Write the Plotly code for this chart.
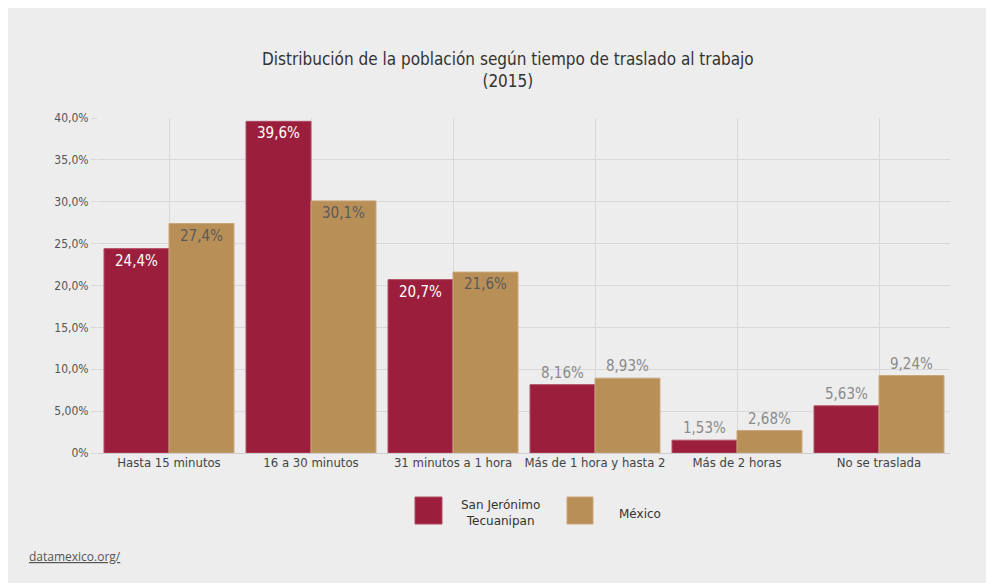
import plotly.graph_objects as go

categories = ["Hasta 15 minutos", "16 a 30 minutos", "31 minutos a 1 hora",
              "Más de 1 hora y hasta 2", "Más de 2 horas", "No se traslada"]
san_jeronimo = [24.4, 39.6, 20.7, 8.16, 1.53, 5.63]
mexico = [27.4, 30.1, 21.6, 8.93, 2.68, 9.24]
positions = ["inside", "inside", "inside", "outside", "outside", "outside"]
tick_vals = [0, 5, 10, 15, 20, 25, 30, 35, 40]
tick_text = ["0%", "5,00%", "10,0%", "15,0%", "20,0%", "25,0%", "30,0%", "35,0%", "40,0%"]

RED = "#9B1F3D"
GOLD = "#B98F58"
BG = "#EDEDED"
COND = "'Liberation Sans Narrow', 'DejaVu Sans Condensed', 'Roboto', sans-serif"

# page body has an 8px default margin: work in page pixel coords, then shift
OFF = 8
W, H = 994 - OFF, 583 - OFF


def fmt(v):
    return f"{v:.3g}".replace(".", ",") + "%"


fig = go.Figure()
fig.add_trace(go.Bar(
    x=categories, y=san_jeronimo, name="San Jerónimo Tecuanipan",
    marker=dict(color=RED, line=dict(color="#B04A62", width=1)),
    text=[fmt(v) for v in san_jeronimo], textposition=positions,
    insidetextanchor="end",
    insidetextfont=dict(color="white", size=15, family=COND),
    outsidetextfont=dict(color="#8A8A8A", size=15, family=COND),
    cliponaxis=False, showlegend=False,
))
fig.add_trace(go.Bar(
    x=categories, y=mexico, name="México",
    marker=dict(color=GOLD, line=dict(color="#C9A577", width=1)),
    text=[fmt(v) for v in mexico], textposition=positions,
    insidetextanchor="end",
    insidetextfont=dict(color="#5A5A5A", size=15, family=COND),
    outsidetextfont=dict(color="#8A8A8A", size=15, family=COND),
    cliponaxis=False, showlegend=False,
))

# plot area in page pixels: x 98..950, y 118..453
PL, PR, PT, PB = 98, 950, 118, 453
L = PL - OFF
R = 994 - PR
T = PT - OFF
B = 583 - PB
PW = PR - PL
PH = PB - PT


def px(x):
    return (x - PL) / PW


def py(y):
    return (PB - y) / PH


shapes = [
    dict(type="rect", xref="paper", yref="paper", x0=px(415), x1=px(442), y0=py(524), y1=py(497),
         fillcolor=RED, line=dict(color="#B04A62", width=1)),
    dict(type="rect", xref="paper", yref="paper", x0=px(567), x1=px(593), y0=py(524), y1=py(497),
         fillcolor=GOLD, line=dict(color="#C9A577", width=1)),
]

LEGFONT = dict(family="'DejaVu Sans', Verdana, sans-serif", size=12, color="#333")
annotations = [
    dict(text="San Jerónimo<br>Tecuanipan", xref="paper", yref="paper", x=px(500), y=py(513),
         showarrow=False, xanchor="center", yanchor="middle", font=LEGFONT),
    dict(text="México", xref="paper", yref="paper", x=px(640), y=py(514),
         showarrow=False, xanchor="center", yanchor="middle", font=LEGFONT),
    dict(text="<u>datamexico.org/</u>", xref="paper", yref="paper", x=px(27), y=py(556),
         showarrow=False, xanchor="left", yanchor="middle",
         font=dict(family="'Open Sans', sans-serif", size=12, color="#555")),
    dict(text="Distribución de la población según tiempo de traslado al trabajo<br>(2015)",
         xref="paper", yref="paper", x=px(508), y=py(70),
         showarrow=False, xanchor="center", yanchor="middle",
         font=dict(family=COND, size=17, color="#333")),
]

fig.update_layout(
    width=W, height=H,
    margin=dict(l=L, r=R, t=T, b=B),
    paper_bgcolor=BG, plot_bgcolor=BG,
    barmode="group", bargap=0.085, bargroupgap=0,
    xaxis=dict(type="category", showgrid=True, gridcolor="#D8D8D8", gridwidth=1,
               tickfont=dict(family=COND, size=13, color="#444"),
               ticks="", showline=False, zeroline=False),
    yaxis=dict(range=[0, 40], tickvals=tick_vals, ticktext=tick_text,
               showgrid=True, gridcolor="#D8D8D8", gridwidth=1,
               zeroline=True, zerolinecolor="#CFCFCF", zerolinewidth=1,
               ticks="outside", ticklen=6, tickcolor="#D8D8D8",
               tickfont=dict(family=COND, size=12, color="#555")),
    shapes=shapes, annotations=annotations,
)

fig.write_html("out.html")
